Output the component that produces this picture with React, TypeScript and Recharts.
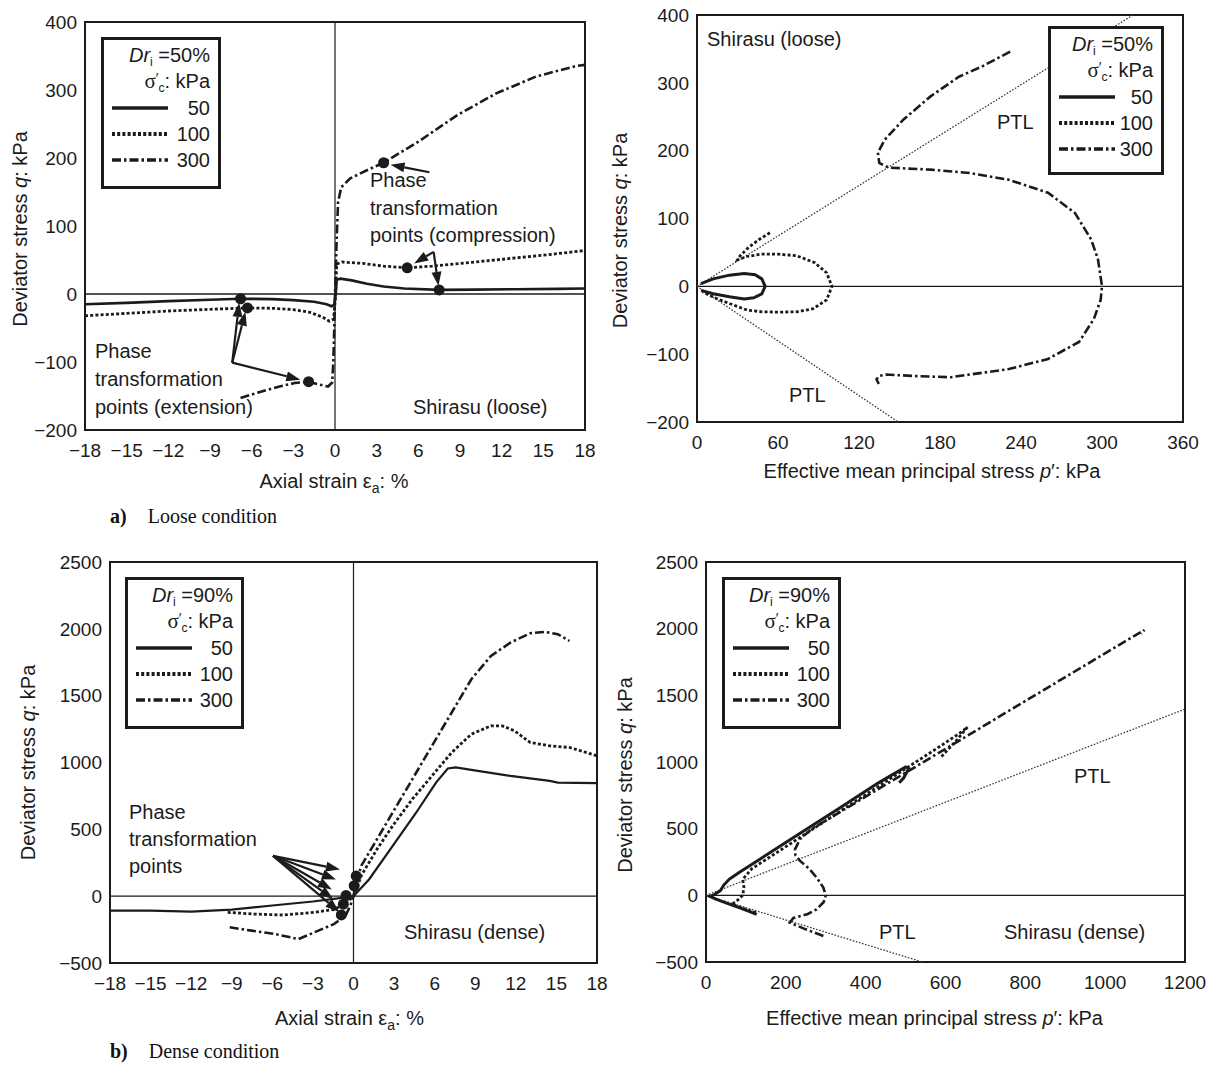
import React from 'react';
import {
  ComposedChart,
  Line,
  Scatter,
  XAxis,
  YAxis,
  ReferenceLine,
  ReferenceArea,
  Legend,
  Label,
} from 'recharts';

const FONT = '"Liberation Sans", Arial, Helvetica, sans-serif';
const SERIF = '"Liberation Serif", "Times New Roman", Times, serif';
const INK = '#1b1b1b';

type Pt = [number, number];

// ---------------- a) Loose condition : axial strain vs deviator stress ----------------
const strainTicks = [-18, -15, -12, -9, -6, -3, 0, 3, 6, 9, 12, 15, 18];
const looseQTicks = [-200, -100, 0, 100, 200, 300, 400];
const looseStrain50: Pt[] = [
  [-18, -15], [-15, -13], [-12, -10.5], [-9, -8.5], [-6.8, -7], [-4.5, -7.5], [-3, -9], [-1.5, -11.5],
  [-0.6, -15], [-0.25, -18], [-0.05, -16], [0.05, 0], [0.12, 21], [0.4, 22.5], [1.2, 20], [2.3, 15],
  [3.5, 11], [5, 8], [7.5, 6], [10, 6.5], [13, 7], [16, 7.5], [18, 8],
];
const looseStrain100: Pt[] = [
  [-18, -32], [-15, -28.5], [-12, -25], [-9, -22.5], [-6.4, -20.5], [-4.5, -21], [-3, -23], [-1.8, -27],
  [-0.9, -34], [-0.4, -40], [-0.1, -37], [0.05, 0], [0.12, 44], [0.5, 47], [2, 45], [3.5, 41], [5.2, 38.5],
  [7, 41], [9, 45], [12, 51], [15, 57], [18, 64],
];
const looseStrain300: Pt[] = [
  [-6.8, -153], [-5.4, -144], [-4, -136], [-2.9, -131], [-1.9, -129], [-1.2, -133], [-0.5, -136], [-0.2, -130],
  [-0.12, -100], [-0.06, -55], [0, 0], [0.12, 80], [0.22, 135], [0.45, 157], [1.1, 170], [2.3, 182], [3.5, 193],
  [6, 224], [8.8, 263], [11.6, 295], [14.5, 320], [17.3, 335], [18, 337],
];
const loosePhaseStrain: Pt[] = [[3.5, 193], [5.2, 38.5], [7.5, 6], [-6.8, -7], [-6.3, -20.5], [-1.9, -129]];
const looseStrainArrows: [Pt, Pt][] = [
  [[6.8, 179], [4.0, 190]],
  [[7.1, 62], [5.7, 45]],
  [[7.1, 62], [7.45, 12]],
  [[-7.4, -101], [-6.9, -13]],
  [[-7.4, -101], [-6.45, -26]],
  [[-7.4, -101], [-2.5, -126]],
];

// ---------------- a) Loose condition : effective mean stress vs deviator stress ----------------
const looseMeanTicks = [0, 60, 120, 180, 240, 300, 360];
const looseMean50: Pt[] = [
  [3, 4], [12, 11], [24, 16.5], [35, 19], [43, 17], [48, 11], [50.5, 0], [48, -11], [42, -17], [35, -18.5],
  [24, -15.5], [12, -11], [3, -6],
];
const looseMean100: Pt[] = [
  [54, 79], [46, 69], [38, 57], [31, 43], [30, 39], [37, 44], [48, 47.5], [60, 47.5], [74, 45], [87, 35],
  [96, 20], [100, 0], [96, -20], [86, -33], [74, -37.5], [61, -38], [48, -37.5], [37, -35], [25, -26],
  [17, -20], [10, -14], [4, -8],
];
const looseMean300: Pt[] = [
  [232, 346], [211, 324], [194, 309], [173, 280], [153, 246], [139, 216], [134, 197], [135, 182], [142, 175],
  [173, 172], [202, 167], [231, 157], [260, 138], [280, 108], [292, 69], [297, 40], [300, 0], [299, -20],
  [294, -48], [283, -82], [260, -107], [231, -122], [188, -134], [159, -132], [140, -130], [135, -132],
  [133, -137], [134.6, -144],
];
const loosePTL: Pt[][] = [
  [[0, 0], [323, 400]],
  [[0, 0], [149, -200]],
];

// ---------------- b) Dense condition : axial strain vs deviator stress ----------------
const denseQTicks = [-500, 0, 500, 1000, 1500, 2000, 2500];
const denseStrain50: Pt[] = [
  [-18, -108], [-15, -108], [-12, -115], [-9, -100], [-6, -70], [-3, -40], [-1, -14], [0, 0], [1.16, 127],
  [2.9, 377], [4.64, 626], [6.1, 850], [6.97, 955], [7.55, 963], [8.71, 945], [11.6, 900], [14.5, 863],
  [15.1, 850], [18, 845],
];
const denseStrain100: Pt[] = [
  [-9.3, -121], [-7.3, -134], [-5.2, -141], [-2.9, -121], [-1.45, -100], [-0.6, -55], [0, 0], [0.14, 27],
  [0.58, 155], [1.74, 352], [2.9, 527], [4.35, 726], [5.8, 900], [7.26, 1075], [8.71, 1212], [10.16, 1274],
  [11, 1274], [11.9, 1237], [13.06, 1150], [14.5, 1125], [16, 1112], [18, 1050],
];
const denseStrain300: Pt[] = [
  [-9.15, -233], [-7.55, -258], [-5.8, -283], [-4.06, -321], [-2.9, -271], [-1.45, -209], [-0.58, -146],
  [-0.2, -60], [0, 0], [0.14, 78], [0.58, 228], [1.74, 427], [2.9, 626], [4.35, 875], [5.8, 1125],
  [7.26, 1374], [8.71, 1623], [10.16, 1797], [11.6, 1897], [13.06, 1967], [14.2, 1977], [15.1, 1960],
  [15.96, 1909],
];
const densePhaseStrain: Pt[] = [[0.2, 150], [0.05, 78], [-0.55, 5], [-0.75, -60], [-0.9, -140]];
const denseStrainArrows: [Pt, Pt][] = [
  [[-5.95, 302], [-1.0, 200]],
  [[-5.95, 302], [-1.3, 125]],
  [[-5.95, 302], [-1.6, 50]],
  [[-5.95, 302], [-1.5, -22]],
  [[-5.95, 302], [-1.05, -118]],
];

// ---------------- b) Dense condition : effective mean stress vs deviator stress ----------------
const denseMeanTicks = [0, 200, 400, 600, 800, 1000, 1200];
const denseMean50: Pt[] = [
  [127, -143], [90, -100], [55, -62], [25, -28], [10, -8], [22, 8], [36, 35], [44, 75], [58, 120], [82, 170],
  [130, 262], [230, 455], [330, 645], [430, 840], [500, 963], [508, 950], [495, 880], [484, 845],
];
const denseMean100: Pt[] = [
  [125, -130], [95, -100], [65, -68], [80, -35], [92, 0], [95, 60], [92, 120], [115, 200], [200, 365],
  [300, 560], [400, 755], [500, 950], [580, 1105], [640, 1225], [655, 1262], [630, 1170], [605, 1090],
  [590, 1040],
];
const denseMean300: Pt[] = [
  [294, -305], [250, -255], [210, -205], [219, -170], [255, -140], [277, -105], [295, -50], [300, 0],
  [294, 58], [278, 130], [260, 195], [235, 260], [224, 300], [223, 345], [235, 420], [265, 498], [350, 650],
  [450, 830], [550, 1009], [650, 1188], [750, 1368], [850, 1547], [950, 1726], [1050, 1905], [1098, 1990],
  [1090, 1960],
];
const densePTL: Pt[][] = [
  [[0, 0], [1200, 1397]],
  [[0, 0], [542, -500]],
];

// ---------------- styling helpers ----------------
const SERIES_KEYS = ['50', '100', '300'] as const;
type SK = (typeof SERIES_KEYS)[number];
const LINE_STYLE: Record<SK, { dash?: string; width: number }> = {
  '50': { width: 2.6 },
  '100': { dash: '3 2.2', width: 2.8 },
  '300': { dash: '9 3 2.5 3', width: 2.6 },
};

const xy = (arr: Pt[]) => arr.map(([x, y]) => ({ x, y }));
const minus = (v: number) => String(v).replace('-', '\u2212');

const Arrow = (props: any) => {
  const { x1, y1, x2, y2 } = props;
  if (![x1, y1, x2, y2].every((v) => Number.isFinite(v))) return null;
  const dx = x2 - x1;
  const dy = y2 - y1;
  const len = Math.hypot(dx, dy) || 1;
  const ux = dx / len;
  const uy = dy / len;
  const hl = 14;
  const hw = 5;
  const bx = x2 - ux * hl;
  const by = y2 - uy * hl;
  const pts = `${x2},${y2} ${bx - uy * hw},${by + ux * hw} ${bx + uy * hw},${by - ux * hw}`;
  return (
    <g>
      <line x1={x1} y1={y1} x2={bx} y2={by} stroke={INK} strokeWidth={2.2} />
      <polygon points={pts} fill={INK} />
    </g>
  );
};

const PhaseDot = (props: any) => <circle cx={props.cx} cy={props.cy} r={5.5} fill={INK} />;

function LegendBox({ dr, w, h }: { dr: number; w: number; h: number }) {
  const row: React.CSSProperties = {
    height: 26.3,
    lineHeight: '26.3px',
    display: 'flex',
    alignItems: 'center',
    justifyContent: 'space-between',
    whiteSpace: 'nowrap',
    overflow: 'visible',
  };
  return (
    <div
      style={{
        boxSizing: 'border-box',
        width: w,
        height: h,
        border: `3px solid ${INK}`,
        background: '#fff',
        padding: '2px 8px 0 8px',
        fontFamily: FONT,
        fontSize: 20,
        color: INK,
      }}
    >
      <div style={{ ...row, justifyContent: 'flex-end' }}>
        <span>
          <i>Dr</i>
          <span style={{ fontSize: 12, verticalAlign: -4, lineHeight: '12px' }}>i</span>
          <span>{' =' + dr + '%'}</span>
        </span>
      </div>
      <div style={{ ...row, justifyContent: 'flex-end' }}>
        <span>
          <span style={{ fontFamily: SERIF, fontSize: 21 }}>σ</span>
          <span style={{ fontSize: 14, verticalAlign: 5, lineHeight: '12px' }}>′</span>
          <span style={{ fontSize: 12, verticalAlign: -4, lineHeight: '12px' }}>c</span>
          <span>: kPa</span>
        </span>
      </div>
      {SERIES_KEYS.map((k) => (
        <div key={k} style={row}>
          <svg width={56} height={10}>
            <line
              x1={0}
              y1={5}
              x2={56}
              y2={5}
              stroke={INK}
              strokeWidth={LINE_STYLE[k].width + 1}
              strokeDasharray={LINE_STYLE[k].dash}
            />
          </svg>
          <span>{k}</span>
        </div>
      ))}
    </div>
  );
}

const xTitleContent = (node: React.ReactNode, dy: number, dx: number) => (props: any) => {
  const vb = props.viewBox || {};
  return (
    <text x={vb.x + vb.width / 2 + dx} y={vb.y + dy} textAnchor="middle" fontFamily={FONT} fontSize={20} fill={INK}>
      {node}
    </text>
  );
};

const yTitleContent = (offset: number, dy: number) => (props: any) => {
  const vb = props.viewBox || {};
  const cx = vb.x + vb.width - offset;
  const cy = vb.y + vb.height / 2 + dy;
  return (
    <text
      x={cx}
      y={cy}
      transform={`rotate(-90 ${cx} ${cy})`}
      textAnchor="middle"
      dominantBaseline="central"
      fontFamily={FONT}
      fontSize={20}
      fill={INK}
    >
      Deviator stress <tspan fontStyle="italic">q</tspan>: kPa
    </text>
  );
};

const strainTitle = (
  <>
    <tspan>Axial strain ε</tspan>
    <tspan fontSize={14} dy={5}>a</tspan>
    <tspan dy={-5}>: %</tspan>
  </>
);
const meanTitle = (
  <>
    <tspan>Effective mean principal stress </tspan>
    <tspan fontStyle="italic">p</tspan>
    <tspan>′: kPa</tspan>
  </>
);

interface PanelProps {
  left: number;
  top: number;
  width: number;
  height: number;
  margin: { top: number; right: number; bottom: number; left: number };
  xDomain: [number, number];
  xTicks: number[];
  yDomain: [number, number];
  yTicks: number[];
  series: { key: SK; data: Pt[]; width?: number }[];
  phase?: Pt[];
  arrows?: [Pt, Pt][];
  ptl?: Pt[][];
  zeroX?: boolean;
  xTitle: React.ReactNode;
  xTitleDy: number;
  xTitleDx: number;
  yTitleOffset: number;
  yTitleDy: number;
  legend: { left: number; top: number; w: number; h: number };
  dr: number;
}

function Panel(p: PanelProps) {
  const [x0, x1] = p.xDomain;
  const [y0, y1] = p.yDomain;
  const tickStyle = { fontSize: 19, fill: INK, fontFamily: FONT };
  return (
    <div style={{ position: 'absolute', left: p.left, top: p.top }}>
      <ComposedChart width={p.width} height={p.height} margin={p.margin}>
        <XAxis
          type="number"
          dataKey="x"
          domain={p.xDomain}
          ticks={p.xTicks}
          allowDataOverflow
          interval={0}
          tickFormatter={minus}
          tick={tickStyle}
          tickLine={false}
          axisLine={false}
          tickMargin={8}
          height={30}
        >
          <Label content={xTitleContent(p.xTitle, p.xTitleDy, p.xTitleDx)} />
        </XAxis>
        <YAxis
          type="number"
          dataKey="y"
          domain={p.yDomain}
          ticks={p.yTicks}
          allowDataOverflow
          interval={0}
          tickFormatter={minus}
          tick={tickStyle}
          tickLine={false}
          axisLine={false}
          tickMargin={2}
          width={60}
        >
          <Label content={yTitleContent(p.yTitleOffset, p.yTitleDy)} />
        </YAxis>
        <ReferenceArea
          x1={x0}
          x2={x1}
          y1={y0}
          y2={y1}
          fill="none"
          fillOpacity={0}
          stroke={INK}
          strokeWidth={2}
          ifOverflow="visible"
        />
        <ReferenceLine y={0} stroke={INK} strokeWidth={1.4} ifOverflow="visible" />
        {p.zeroX && <ReferenceLine x={0} stroke={INK} strokeWidth={1.2} ifOverflow="visible" />}
        {(p.ptl || []).map((seg, i) => (
          <ReferenceLine
            key={'ptl' + i}
            segment={seg.map(([x, y]) => ({ x, y }))}
            stroke="#3a3a3a"
            strokeWidth={1.3}
            strokeDasharray="1.6 1.6"
            ifOverflow="visible"
          />
        ))}
        {p.series.map((s) => (
          <Line
            key={s.key}
            data={xy(s.data)}
            dataKey="y"
            name={s.key}
            type="linear"
            stroke={INK}
            strokeWidth={s.width ?? LINE_STYLE[s.key].width}
            strokeDasharray={LINE_STYLE[s.key].dash}
            dot={false}
            activeDot={false}
            isAnimationActive={false}
          />
        ))}
        {(p.arrows || []).map((a, i) => (
          <ReferenceLine
            key={'arr' + i}
            segment={a.map(([x, y]) => ({ x, y }))}
            shape={Arrow}
            ifOverflow="visible"
          />
        ))}
        {p.phase && (
          <Scatter
            name="PT"
            data={xy(p.phase)}
            dataKey="y"
            shape={PhaseDot}
            legendType="none"
            isAnimationActive={false}
          />
        )}
        <Legend
          layout="horizontal"
          verticalAlign="middle"
          align="center"
          wrapperStyle={{ left: p.legend.left, top: p.legend.top, width: p.legend.w, height: p.legend.h }}
          content={() => <LegendBox dr={p.dr} w={p.legend.w} h={p.legend.h} />}
        />
      </ComposedChart>
    </div>
  );
}

const Note = ({ left, top, lines, lh = 27.5 }: { left: number; top: number; lines: string[]; lh?: number }) => (
  <div
    style={{
      position: 'absolute',
      left,
      top,
      fontFamily: FONT,
      fontSize: 20,
      lineHeight: `${lh}px`,
      color: INK,
      whiteSpace: 'nowrap',
    }}
  >
    {lines.map((l, i) => (
      <div key={i}>{l}</div>
    ))}
  </div>
);

const Caption = ({ top, tag, text }: { top: number; tag: string; text: string }) => (
  <div
    style={{
      position: 'absolute',
      left: 110,
      top,
      fontFamily: SERIF,
      fontSize: 20,
      color: '#111',
      whiteSpace: 'nowrap',
    }}
  >
    <b>{tag}</b>
    <span style={{ marginLeft: 21 }}>{text}</span>
  </div>
);

export default function App() {
  return (
    <div
      style={{
        position: 'absolute',
        left: 0,
        top: 0,
        width: 1211,
        height: 1066,
        background: '#fff',
        overflow: 'hidden',
      }}
    >
      {/* a) loose – strain */}
      <Panel
        left={0}
        top={0}
        width={600}
        height={500}
        margin={{ top: 22, right: 15, bottom: 40, left: 25 }}
        xDomain={[-18, 18]}
        xTicks={strainTicks}
        yDomain={[-200, 400]}
        yTicks={looseQTicks}
        series={[
          { key: '50', data: looseStrain50 },
          { key: '100', data: looseStrain100 },
          { key: '300', data: looseStrain300 },
        ]}
        phase={loosePhaseStrain}
        arrows={looseStrainArrows}
        zeroX
        xTitle={strainTitle}
        xTitleDy={58}
        xTitleDx={-1}
        yTitleOffset={65}
        yTitleDy={3}
        legend={{ left: 101, top: 37, w: 120, h: 152 }}
        dr={50}
      />
      {/* a) loose – mean stress */}
      <Panel
        left={600}
        top={0}
        width={611}
        height={500}
        margin={{ top: 15, right: 28, bottom: 48, left: 37 }}
        xDomain={[0, 360]}
        xTicks={looseMeanTicks}
        yDomain={[-200, 400]}
        yTicks={looseQTicks}
        series={[
          { key: '50', data: looseMean50, width: 3 },
          { key: '100', data: looseMean100 },
          { key: '300', data: looseMean300 },
        ]}
        ptl={loosePTL}
        xTitle={meanTitle}
        xTitleDy={56}
        xTitleDx={-8}
        yTitleOffset={77}
        yTitleDy={12}
        legend={{ left: 448, top: 26, w: 116, h: 149 }}
        dr={50}
      />
      {/* b) dense – strain */}
      <Panel
        left={0}
        top={545}
        width={610}
        height={490}
        margin={{ top: 17, right: 13, bottom: 42, left: 50 }}
        xDomain={[-18, 18]}
        xTicks={strainTicks}
        yDomain={[-500, 2500]}
        yTicks={denseQTicks}
        series={[
          { key: '50', data: denseStrain50, width: 2.2 },
          { key: '100', data: denseStrain100 },
          { key: '300', data: denseStrain300 },
        ]}
        phase={densePhaseStrain}
        arrows={denseStrainArrows}
        zeroX
        xTitle={strainTitle}
        xTitleDy={62}
        xTitleDx={-4}
        yTitleOffset={82}
        yTitleDy={0}
        legend={{ left: 125, top: 32, w: 119, h: 152 }}
        dr={90}
      />
      {/* b) dense – mean stress */}
      <Panel
        left={600}
        top={545}
        width={611}
        height={490}
        margin={{ top: 17, right: 26, bottom: 43, left: 46 }}
        xDomain={[0, 1200]}
        xTicks={denseMeanTicks}
        yDomain={[-500, 2500]}
        yTicks={denseQTicks}
        series={[
          { key: '50', data: denseMean50, width: 3 },
          { key: '100', data: denseMean100 },
          { key: '300', data: denseMean300 },
        ]}
        ptl={densePTL}
        xTitle={meanTitle}
        xTitleDy={63}
        xTitleDx={-11}
        yTitleOffset={81}
        yTitleDy={13}
        legend={{ left: 122, top: 32, w: 119, h: 152 }}
        dr={90}
      />

      {/* annotations */}
      <Note left={370} top={167} lines={['Phase', 'transformation', 'points (compression)']} />
      <Note left={95} top={337} lines={['Phase', 'transformation', 'points (extension)']} lh={28} />
      <Note left={413} top={393} lines={['Shirasu (loose)']} lh={28} />
      <Note left={707} top={25} lines={['Shirasu (loose)']} lh={28} />
      <Note left={997} top={108} lines={['PTL']} lh={28} />
      <Note left={789} top={381} lines={['PTL']} lh={28} />
      <Note left={129} top={799} lines={['Phase', 'transformation', 'points']} lh={27.2} />
      <Note left={404} top={918} lines={['Shirasu (dense)']} lh={28} />
      <Note left={1074} top={762} lines={['PTL']} lh={28} />
      <Note left={879} top={918} lines={['PTL']} lh={28} />
      <Note left={1004} top={918} lines={['Shirasu (dense)']} lh={28} />

      <Caption top={505} tag="a)" text="Loose condition" />
      <Caption top={1040} tag="b)" text="Dense condition" />
    </div>
  );
}
